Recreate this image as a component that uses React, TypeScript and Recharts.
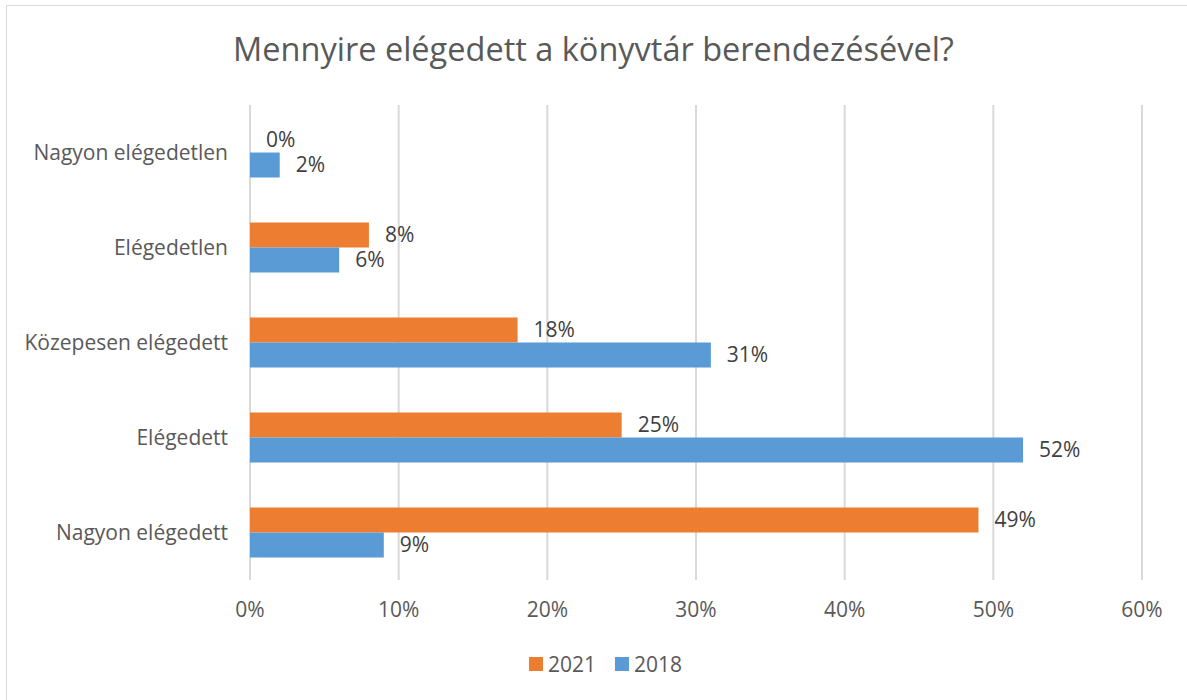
import { BarChart, Bar, XAxis, YAxis, CartesianGrid, LabelList } from "recharts";

const categories = [
  "Nagyon elégedetlen",
  "Elégedetlen",
  "Közepesen elégedett",
  "Elégedett",
  "Nagyon elégedett",
];
const values2021 = [0, 0.08, 0.18, 0.25, 0.49];
const values2018 = [0.02, 0.06, 0.31, 0.52, 0.09];
const xTicks = [0, 0.1, 0.2, 0.3, 0.4, 0.5, 0.6];

const ORANGE = "#ED7D31";
const BLUE = "#5B9BD5";
const FONT = "'Open Sans', sans-serif";
const TEXT_SIZE = 21;

const data = categories.map((name, i) => ({
  name,
  y2021: values2021[i],
  y2018: values2018[i],
}));

const pct = (v: any) => `${Math.round(Number(v) * 100)}%`;

function Legend() {
  const item = (color: string, label: string) => (
    <div style={{ display: "flex", alignItems: "center", marginRight: 19 }}>
      <div style={{ width: 14, height: 14, background: color, marginRight: 5 }} />
      <span>{label}</span>
    </div>
  );
  return (
    <div
      style={{
        position: "absolute",
        top: 650,
        left: 529,
        display: "flex",
        fontSize: TEXT_SIZE,
        color: "#595959",
        fontFamily: FONT,
      }}
    >
      {item(ORANGE, "2021")}
      {item(BLUE, "2018")}
    </div>
  );
}

export default function App() {
  return (
    <div
      style={{
        position: "absolute",
        left: 0,
        top: 0,
        width: 1187,
        height: 700,
        overflow: "hidden",
        background: "#fff",
        fontFamily: FONT,
      }}
    >
      <div
        style={{
          position: "absolute",
          left: 6,
          top: 5,
          width: 1200,
          height: 720,
          border: "1px solid #d9d9d9",
        }}
      />
      <div
        style={{
          position: "absolute",
          top: 27,
          left: 0,
          width: 1187,
          textAlign: "center",
          fontSize: 32.5,
          lineHeight: 1.362,
          color: "#595959",
        }}
      >
        Mennyire elégedett a könyvtár berendezésével?
      </div>

      <div style={{ position: "absolute", left: 0, top: 0 }}>
        <BarChart
          width={1187}
          height={700}
          data={data}
          layout="vertical"
          margin={{ top: 105, right: 45, bottom: 80, left: 0 }}
          barGap={0}
          barCategoryGap="23.7%"
        >
          <CartesianGrid horizontal={false} stroke="#d9d9d9" strokeWidth={2} />
          <XAxis
            type="number"
            domain={[0, 0.6]}
            ticks={xTicks}
            tickFormatter={pct}
            axisLine={false}
            tickLine={false}
            tickSize={0}
            tickMargin={22}
            height={40}
            interval={0}
            tick={{ fill: "#595959", fontSize: TEXT_SIZE, fontFamily: FONT }}
          />
          <YAxis
            type="category"
            dataKey="name"
            width={250}
            axisLine={false}
            tickLine={false}
            tickSize={0}
            tickMargin={22}
            tick={{ fill: "#595959", fontSize: TEXT_SIZE, fontFamily: FONT }}
          />
          <Bar dataKey="y2021" fill={ORANGE} minPointSize={0.01} isAnimationActive={false}>
            <LabelList
              dataKey="y2021"
              position="right"
              offset={16}
              formatter={pct}
              style={{ fill: "#404040", fontSize: TEXT_SIZE, fontFamily: FONT }}
            />
          </Bar>
          <Bar dataKey="y2018" fill={BLUE} isAnimationActive={false}>
            <LabelList
              dataKey="y2018"
              position="right"
              offset={16}
              formatter={pct}
              style={{ fill: "#404040", fontSize: TEXT_SIZE, fontFamily: FONT }}
            />
          </Bar>
        </BarChart>
      </div>

      <Legend />
    </div>
  );
}
